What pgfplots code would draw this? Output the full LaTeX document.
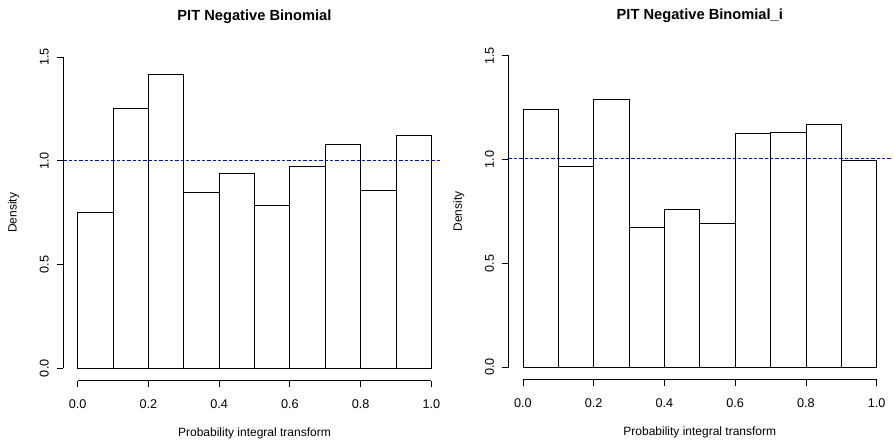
\documentclass[border=0pt]{standalone}
\usepackage{fontspec}
\setmainfont{Liberation Sans}
\usepackage{pgfplots}
\pgfplotsset{compat=1.18}
\definecolor{refblue}{RGB}{0,0,255}

\pgfplotsset{rhist/.style={
  scale only axis, width=286.5pt, height=252pt,
  xmin=-0.04, xmax=1.04, ymin=-0.06, ymax=1.56,
  clip=false,
  axis x line*=bottom, axis y line*=left,
  axis line style={draw=none},
  tick align=outside, major tick length=5pt,
  tick style={black, line width=0.6pt},
  xtick={0,0.2,0.4,0.6,0.8,1}, ytick={0,0.5,1,1.5},
  /pgf/number format/fixed, /pgf/number format/fixed zerofill,
  /pgf/number format/precision=1, /pgf/number format/assume math mode=true,
  tick label style={font=\fontsize{9.5}{10}\selectfont},
  yticklabel style={rotate=90, anchor=south},
  xticklabel shift=6pt, yticklabel shift=2.5pt,
  title style={font=\bfseries\fontsize{11}{13}\selectfont, at={(axis description cs:0.5,1.059)}, anchor=center},
  xlabel style={font=\fontsize{9}{10}\selectfont, at={(axis description cs:0.5,-0.157)}, anchor=center},
  ylabel style={font=\fontsize{9}{10}\selectfont, at={(axis description cs:-0.131,0.5)}, anchor=center},
  xlabel={Probability integral transform}, ylabel={Density},
}}

\begin{document}
\begin{tikzpicture}
\useasboundingbox (0,0) rectangle (670.5pt,333pt);

% left panel
\begin{axis}[rhist, at={(47.6pt,47.5pt)}, anchor=south west,
  title={PIT Negative Binomial}]
\draw[line width=0.6pt] (axis cs:0,-0.06) -- (axis cs:1,-0.06);
\draw[line width=0.6pt] (axis cs:-0.04,0) -- (axis cs:-0.04,1.5);
\addplot[ybar interval, fill=none, draw=black, line width=0.6pt] coordinates {
  (0.0,0.749) (0.1,1.253) (0.2,1.417) (0.3,0.850) (0.4,0.937)
  (0.5,0.786) (0.6,0.971) (0.7,1.081) (0.8,0.858) (0.9,1.121) (1.0,1.121)};
\addplot[color=refblue, line width=0.6pt, dash pattern=on 2.5pt off 1.5pt] coordinates {(-0.04,1) (1.025,1)};
\end{axis}

% right panel
\begin{axis}[rhist, at={(381.6pt,48.45pt)}, anchor=south west,
  title={PIT Negative Binomial\_i}]
\draw[line width=0.6pt] (axis cs:0,-0.06) -- (axis cs:1,-0.06);
\draw[line width=0.6pt] (axis cs:-0.04,0) -- (axis cs:-0.04,1.5);
\addplot[ybar interval, fill=none, draw=black, line width=0.6pt] coordinates {
  (0.0,1.243) (0.1,0.966) (0.2,1.291) (0.3,0.674) (0.4,0.759)
  (0.5,0.693) (0.6,1.126) (0.7,1.132) (0.8,1.171) (0.9,0.998) (1.0,0.998)};
\addplot[color=refblue, draw opacity=0.99, line width=0.65pt, dash pattern=on 2.5pt off 1.5pt] coordinates {(-0.04,1.003) (1.04,1.003)};
\end{axis}
\end{tikzpicture}
\end{document}
